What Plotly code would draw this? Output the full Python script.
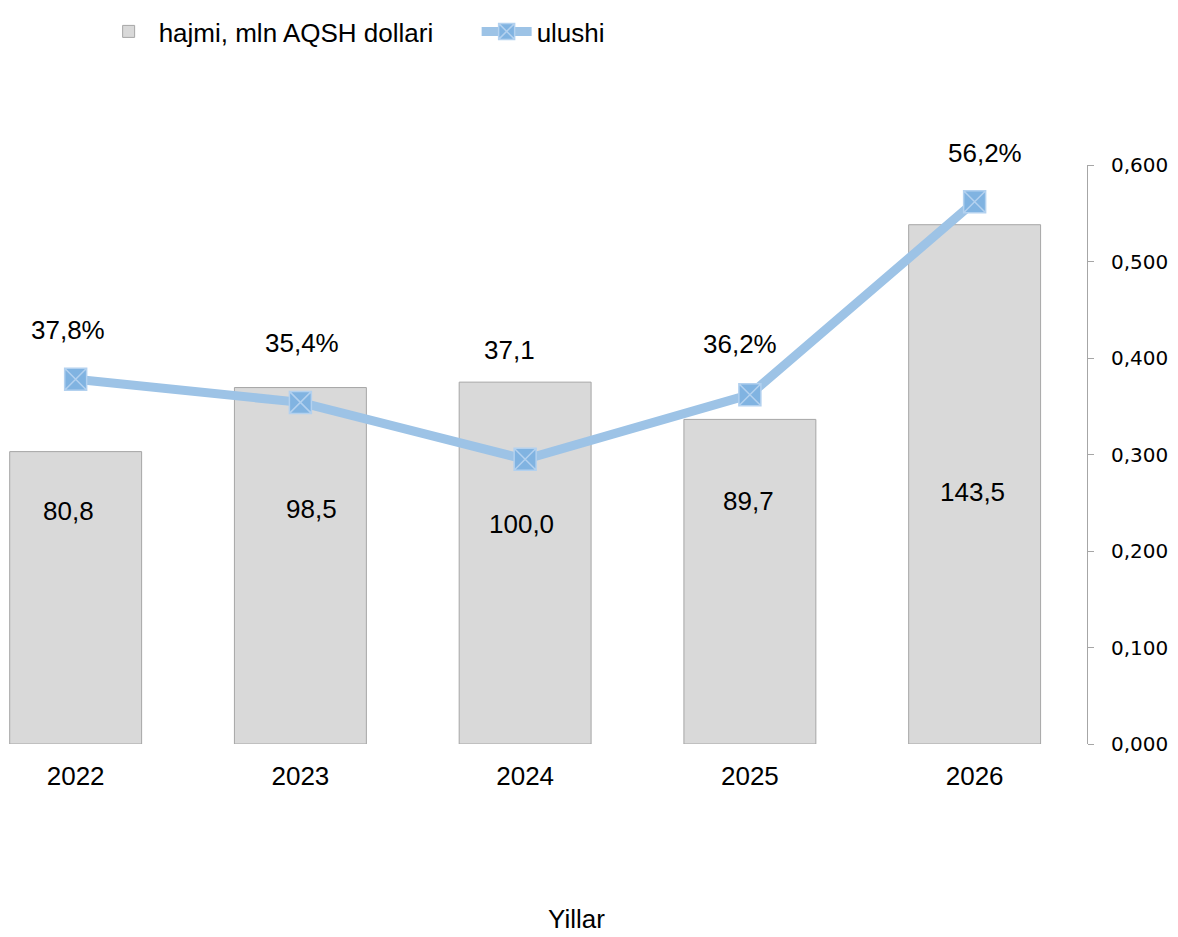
import plotly.graph_objects as go

# data
years = ["2022", "2023", "2024", "2025", "2026"]
volume = [80.8, 98.5, 100.0, 89.7, 143.5]        # hajmi, mln AQSH dollari
share = [0.378, 0.354, 0.295, 0.362, 0.562]      # ulushi
share_labels = ["37,8%", "35,4%", "37,1", "36,2%", "56,2%"]
volume_labels = ["80,8", "98,5", "100,0", "89,7", "143,5"]

# label placement (pixel offsets / heights), styling only
share_dx = [-8, 2, -16, -10, 10]
share_dy = [49, 59, 109, 51, 49]
vol_label_y = [64.4, 64.9, 60.8, 67.1, 69.6]
vol_dx = [-7, 11, -4, -1, -2]

fig = go.Figure()
fig.add_trace(go.Bar(x=years, y=volume, name="hajmi, mln AQSH dollari",
                     width=0.587, marker=dict(color="#d9d9d9",
                                              line=dict(color="#a6a6a6", width=1))))
fig.add_trace(go.Scatter(x=years, y=share, name="ulushi", yaxis="y2",
                         mode="lines+markers", cliponaxis=False,
                         line=dict(color="#9dc3e6", width=9),
                         marker=dict(symbol="square-x", size=22, color="#80b3e1",
                                     line=dict(color="#b3d1ef", width=1.5))))

# value labels (category index used for x)
for i, y in enumerate(years):
    fig.add_annotation(x=i, y=share[i], yref="y2", text=share_labels[i],
                       showarrow=False, xanchor="center", yanchor="middle",
                       xshift=share_dx[i], yshift=share_dy[i])
    fig.add_annotation(x=i, y=vol_label_y[i], yref="y", text=volume_labels[i],
                       showarrow=False, xanchor="center", yanchor="middle",
                       xshift=vol_dx[i])

fig.add_annotation(x=0.527, y=-0.302, xref="paper", yref="paper", text="Yillar",
                   showarrow=False, xanchor="center", yanchor="middle")

fig.update_layout(
    width=1170, height=929,
    margin=dict(l=0, r=91, t=152, b=193),
    plot_bgcolor="white", paper_bgcolor="white",
    font=dict(family="Liberation Sans, Arial", size=26, color="black"),
    separators=", ",
    showlegend=True,
    legend=dict(orientation="h", x=0.084, xanchor="left", y=1.231, yanchor="middle",
                font=dict(size=26), itemwidth=50, entrywidth=313,
                traceorder="normal"),
)
fig.update_xaxes(range=[-0.301, 4.5], showline=False, showgrid=False,
                 ticks="", ticklabelstandoff=14)
fig.update_yaxes(range=[0, 160], visible=False)
fig.update_layout(yaxis2=dict(overlaying="y", side="right", anchor="x",
                              range=[0, 0.6], dtick=0.1, tickformat=".3f",
                              showline=True, linecolor="#a6a6a6", linewidth=1,
                              ticks="outside", ticklen=6, tickcolor="#a6a6a6",
                              showgrid=False, zeroline=False,
                              ticklabelstandoff=13,
                              tickfont=dict(family="DejaVu Sans", size=20)))

fig.write_html("out.html")
